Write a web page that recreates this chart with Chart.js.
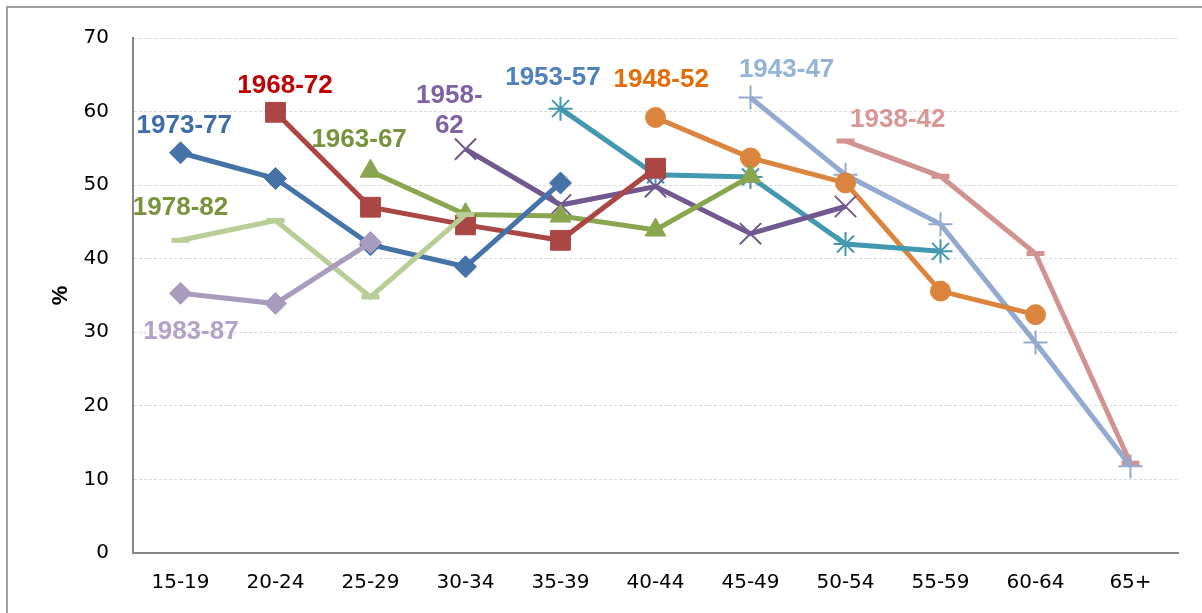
<!DOCTYPE html>
<html lang="en">
<head>
    <meta charset="UTF-8">
    <title>Cohorts by age group</title>
    <script src="https://cdn.jsdelivr.net/npm/chart.js"></script>
    <style>
        body {
            margin: 0;
            background: #fff;
            overflow: hidden;
        }
        .frame {
            position: absolute;
            left: 6px;
            top: 6px;
            width: 1400px;
            height: 800px;
            border-left: 2px solid #a0a0a0;
            border-top: 2px solid #a0a0a0;
        }
        .wrap {
            position: absolute;
            left: 0;
            top: 0;
            width: 1202px;
            height: 613px;
        }
    </style>
</head>
<body>
    <div class="frame"></div>
    <div class="wrap"><canvas id="cohortChart"></canvas></div>

    <script>
        const ageGroups = ['15-19', '20-24', '25-29', '30-34', '35-39', '40-44', '45-49', '50-54', '55-59', '60-64', '65+'];
        const yTicks = [0, 10, 20, 30, 40, 50, 60, 70];

        const c1938 = [null, null, null, null, null, null, null, 56.0, 51.2, 40.7, 12.2];
        const c1943 = [null, null, null, null, null, null, 61.9, 51.4, 44.7, 28.6, 11.8];
        const c1948 = [null, null, null, null, null, 59.2, 53.7, 50.3, 35.6, 32.4, null];
        const c1953 = [null, null, null, null, 60.4, 51.4, 51.1, 42.0, 41.0, null, null];
        const c1958 = [null, null, null, 54.9, 47.3, 49.8, 43.4, 47.1, null, null, null];
        const c1963 = [null, null, 51.9, 46.0, 45.8, 43.9, 51.2, null, null, null, null];
        const c1968 = [null, 59.9, 47.0, 44.6, 42.5, 52.3, null, null, null, null, null];
        const c1973 = [54.4, 50.9, 41.9, 38.9, 50.3, null, null, null, null, null, null];
        const c1978 = [42.5, 45.2, 34.8, 46.0, null, null, null, null, null, null, null];
        const c1983 = [35.3, 33.9, 42.2, null, null, null, null, null, null, null, null];

        // cohort labels: [text lines, category position, value position, colour]
        const cohortLabels = [
            [['1973-77'], 0.04, 58.0, '#3E6DA9'],
            [['1968-72'], 1.10, 63.5, '#C00000'],
            [['1963-67'], 1.88, 56.1, '#77933C'],
            [['1958-', '62'], 2.83, 62.1, '#7F62A3'],
            [['1953-57'], 3.92, 64.6, '#4F81BD'],
            [['1948-52'], 5.06, 64.3, '#E46C0A'],
            [['1943-47'], 6.38, 65.7, '#95B3D7'],
            [['1938-42'], 7.55, 58.9, '#D99694'],
            [['1978-82'], 0.00, 46.9, '#77933C'],
            [['1983-87'], 0.11, 30.0, '#B3A2C7']
        ];

        function series(label, data, color, style, radius, pointWidth) {
            return {
                label: label,
                data: data,
                borderColor: color,
                backgroundColor: color,
                borderWidth: 5,
                tension: 0,
                pointStyle: style,
                pointRadius: radius,
                pointHoverRadius: radius,
                pointBackgroundColor: color,
                pointBorderColor: color,
                pointBorderWidth: pointWidth
            };
        }

        const labelPlugin = {
            id: 'cohortLabels',
            afterDatasetsDraw(chart) {
                const ctx = chart.ctx;
                const x = chart.scales.x;
                const y = chart.scales.y;
                ctx.save();
                ctx.font = 'bold 26px "Liberation Sans", Arial, sans-serif';
                ctx.textAlign = 'center';
                ctx.textBaseline = 'middle';
                cohortLabels.forEach(l => {
                    ctx.fillStyle = l[3];
                    const px = x.getPixelForValue(l[1]);
                    const py = y.getPixelForValue(l[2]);
                    l[0].forEach((line, i) => ctx.fillText(line, px, py + i * 30));
                });
                ctx.restore();
            }
        };

        new Chart(document.getElementById('cohortChart'), {
            type: 'line',
            data: {
                labels: ageGroups,
                datasets: [
                    series('1983-87', c1983, '#A99BBD', 'rectRot', 11, 1),
                    series('1978-82', c1978, '#B9CD96', 'line', 9, 5),
                    series('1973-77', c1973, '#4572A7', 'rectRot', 11, 1),
                    series('1968-72', c1968, '#AA4643', 'rect', 14, 1),
                    series('1963-67', c1963, '#89A54E', 'triangle', 12, 1),
                    series('1958-62', c1958, '#71588F', 'crossRot', 15, 2),
                    series('1953-57', c1953, '#4198AF', 'star', 12, 2),
                    series('1948-52', c1948, '#DB843D', 'circle', 10, 1),
                    series('1943-47', c1943, '#93A9CF', 'cross', 12, 2),
                    series('1938-42', c1938, '#D19392', 'line', 9, 5)
                ]
            },
            options: {
                responsive: true,
                maintainAspectRatio: false,
                animation: false,
                layout: { padding: { left: 44, top: 38, right: 24, bottom: 0 } },
                plugins: {
                    legend: { display: false },
                    tooltip: { enabled: false }
                },
                scales: {
                    x: {
                        offset: true,
                        grid: { display: false, drawTicks: false, offset: true },
                        border: { display: true, color: '#868686', width: 2 },
                        ticks: {
                            color: '#000',
                            padding: 18,
                            maxRotation: 0,
                            autoSkip: false,
                            font: { family: '"DejaVu Sans", sans-serif', size: 20 }
                        },
                        afterFit(scale) { scale.height = 60; }
                    },
                    y: {
                        min: 0,
                        max: 70,
                        afterBuildTicks(scale) { scale.ticks = yTicks.map(v => ({ value: v })); },
                        grid: { color: '#d9d9d9', lineWidth: 1, drawTicks: false },
                        border: { display: true, color: '#868686', width: 2, dash: [3, 2] },
                        ticks: {
                            color: '#000',
                            padding: 24,
                            font: { family: '"DejaVu Sans", sans-serif', size: 20 }
                        },
                        title: {
                            display: true,
                            text: '%',
                            color: '#000',
                            padding: 4,
                            font: { family: '"Liberation Sans", Arial, sans-serif', size: 22, weight: 'bold' }
                        },
                        afterFit(scale) { scale.width = 89; }
                    }
                }
            },
            plugins: [labelPlugin]
        });
    </script>
</body>
</html>
